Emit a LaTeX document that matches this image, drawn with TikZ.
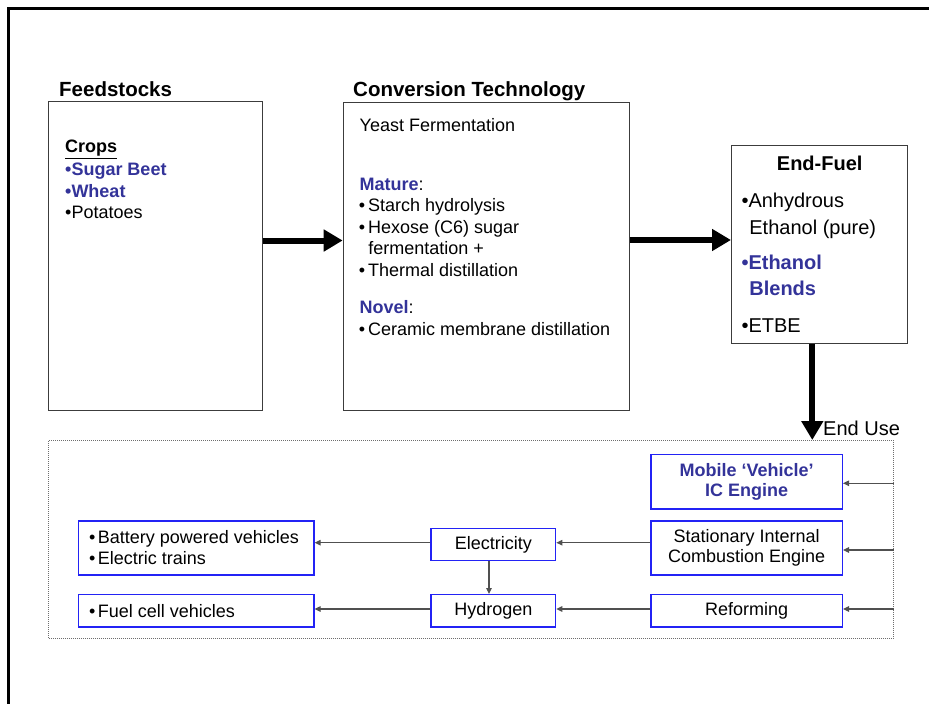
\documentclass[tikz,border=0pt]{standalone}
\usepackage{fontspec}
\setmainfont{Liberation Sans}
\usetikzlibrary{arrows.meta}
\definecolor{navy}{RGB}{51,51,153}
\definecolor{edgeblue}{RGB}{35,35,245}
\definecolor{panelgray}{RGB}{60,60,60}
\definecolor{linkgray}{RGB}{80,80,80}
\definecolor{dotgray}{RGB}{110,110,110}

\begin{document}
\begin{tikzpicture}[x=1pt,y=-1pt,
  panel/.style={draw=panelgray, line width=1pt, rectangle, inner sep=0pt, anchor=north west},
  usebox/.style={draw=edgeblue, line width=1.3pt, rectangle, inner sep=0pt, anchor=north west,
    align=center, font=\fontsize{18}{20.6}\selectfont},
  txt/.style={inner sep=0pt, anchor=base west, font=\fontsize{18}{21}\selectfont},
  fueltxt/.style={inner sep=0pt, anchor=base west, font=\fontsize{20}{26}\selectfont},
  heading/.style={inner sep=0pt, anchor=base west, font=\fontsize{20.5}{24}\selectfont\bfseries},
  hilite/.style={text=navy, font=\fontsize{18}{21}\selectfont\bfseries},
  bigarrow/.style={line width=6pt, -{Triangle[length=19pt,width=21pt]}},
  thinarrow/.style={draw=linkgray, line width=1.2pt, -{Triangle[length=6pt,width=5.5pt]}},
]
\useasboundingbox (0,0) rectangle (929,704);

% page frame (left and top edges only)
\draw[line width=2.8pt] (8.3,704) -- (8.3,8.3) -- (929,8.3);

% ---------- upper panels ----------
\node[panel, minimum width=213.4pt, minimum height=308.8pt] (feed) at (48.3,100.7) {};
\node[panel, minimum width=286pt, minimum height=307.8pt] (conv) at (342.7,101.7) {};
\node[panel, minimum width=176.3pt, minimum height=197.7pt] (fuel) at (731,145) {};

% headings
\node[heading] (hfeed) at (59,96) {Feedstocks};
\node[heading] (hconv) at (353,96) {Conversion Technology};

% feedstocks list
\node[txt, font=\fontsize{18}{21}\selectfont\bfseries] (crops) at (65,152.7) {\underline{Crops}};
\node[txt, hilite] (beet) at (65,175) {•Sugar Beet};
\node[txt, hilite] (wheat) at (65,197) {•Wheat};
\node[txt] (pot) at (65,218) {•Potatoes};

% conversion technology list
\node[txt] (yeast) at (359.5,131) {Yeast Fermentation};
\node[txt] (mature) at (359.5,190) {\textcolor{navy}{\bfseries Mature}:};
\node[txt] (c1) at (358.7,211.7) {•\hspace{3pt}Starch hydrolysis};
\node[txt] (c2) at (358.7,233) {•\hspace{3pt}Hexose (C6) sugar};
\node[txt] (c3) at (368.2,254) {fermentation +};
\node[txt] (c4) at (358.7,276.7) {•\hspace{3pt}Thermal distillation};
\node[txt] (novel) at (359.5,313) {\textcolor{navy}{\bfseries Novel}:};
\node[txt] (c5) at (358.7,335) {•\hspace{3pt}Ceramic membrane distillation};

% end-fuel list
\node[inner sep=0pt, anchor=base, font=\fontsize{20}{24}\selectfont\bfseries] (hfuel) at (819.7,170.7) {End-Fuel};
\node[fueltxt] (f1) at (741.3,207) {•Anhydrous};
\node[fueltxt] (f2) at (749.2,234) {Ethanol (pure)};
\node[fueltxt, text=navy, font=\fontsize{20}{26}\selectfont\bfseries] (f3) at (741.3,269.3) {•Ethanol};
\node[fueltxt, text=navy, font=\fontsize{20}{26}\selectfont\bfseries] (f4) at (749.2,295) {Blends};
\node[fueltxt] (f5) at (741.3,332.7) {•ETBE};

% ---------- end use area ----------
\node[draw=dotgray, line width=0.9pt, dash pattern=on 1pt off 1pt, rectangle, inner sep=0pt,
      anchor=north west, minimum width=844.4pt, minimum height=198.3pt] (uses) at (48.3,440) {};
\node[fueltxt] (enduse) at (823,435) {End Use};

\node[usebox, minimum width=191.4pt, minimum height=54.3pt, text=navy,
      font=\fontsize{18}{20.6}\selectfont\bfseries] (mobile) at (650.3,454) {Mobile ‘Vehicle’\\IC Engine};
\node[usebox, minimum width=191.4pt, minimum height=54pt] (stat) at (650.3,520.3) {Stationary Internal\\Combustion Engine};
\node[usebox, minimum width=191.4pt, minimum height=32.3pt] (reform) at (650.3,594) {Reforming};
\node[usebox, minimum width=124.7pt, minimum height=31.7pt] (elec) at (430.3,528) {Electricity};
\node[usebox, minimum width=124.7pt, minimum height=32.3pt] (hydro) at (430.3,594) {Hydrogen};
\node[usebox, minimum width=235.6pt, minimum height=54pt] (batt) at (77.7,520.3) {};
\node[usebox, minimum width=235.6pt, minimum height=32.3pt] (fcell) at (77.7,594) {};

\node[txt] (b1) at (89,543.3) {•\hspace{2.4pt}Battery powered vehicles};
\node[txt] (b2) at (89,564.3) {•\hspace{2.4pt}Electric trains};
\node[txt] (b3) at (89,617.3) {•\hspace{2.4pt}Fuel cell vehicles};

% ---------- connectors ----------
\coordinate (rowA) at (0,240.5);
\coordinate (rowB) at (0,240);
\coordinate (colD) at (812.3,0);
\draw[bigarrow] (feed.east |- rowA) -- (conv.west |- rowA);
\draw[bigarrow] (conv.east |- rowB) -- (fuel.west |- rowB);
\draw[bigarrow] (fuel.south -| colD) -- (uses.north -| colD);

\coordinate (lvl1) at (0,483.3);
\coordinate (lvl2) at (0,550);
\coordinate (lvl3) at (0,609);
\coordinate (lvlE) at (0,542.7);
\coordinate (colE) at (489,0);
\draw[thinarrow] (uses.east |- lvl1) -- (mobile.east |- lvl1);
\draw[thinarrow] (uses.east |- lvl2) -- (stat.east |- lvl2);
\draw[thinarrow] (uses.east |- lvl3) -- (reform.east |- lvl3);
\draw[thinarrow] (stat.west |- lvlE) -- (elec.east |- lvlE);
\draw[thinarrow] (reform.west |- lvl3) -- (hydro.east |- lvl3);
\draw[thinarrow] (elec.west |- lvlE) -- (batt.east |- lvlE);
\draw[thinarrow] (hydro.west |- lvl3) -- (fcell.east |- lvl3);
\draw[thinarrow] (elec.south -| colE) -- (hydro.north -| colE);
\end{tikzpicture}
\end{document}
